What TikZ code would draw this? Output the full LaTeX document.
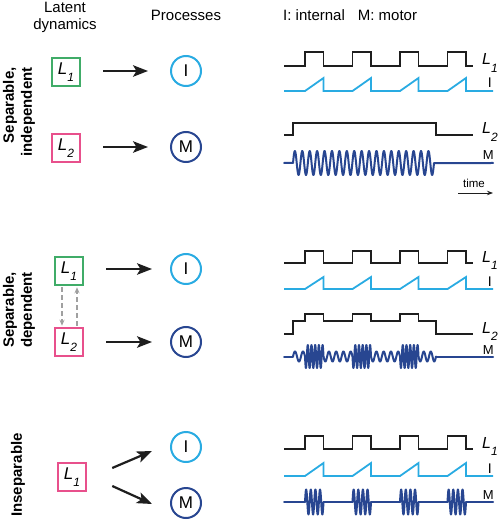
\documentclass[tikz,border=0pt]{standalone}
\usepackage{fontspec}
\setmainfont{Liberation Sans}
\usetikzlibrary{arrows.meta,calc}
\definecolor{lgreen}{RGB}{64,172,104}
\definecolor{lpink}{RGB}{232,80,140}
\definecolor{lblue}{RGB}{41,171,226}
\definecolor{dblue}{RGB}{40,70,145}
\definecolor{tblack}{RGB}{30,30,30}
\definecolor{dgray}{RGB}{160,160,160}
\newcommand\Lsub[1]{\textit{L}\raisebox{-0.45em}{\fontsize{12}{12}\selectfont\textit{#1}}}
\begin{document}
\begin{tikzpicture}[x=1pt,y=-1pt,
  latent/.style={draw, line width=2pt, minimum size=28.5pt, inner sep=0pt, font=\fontsize{17}{17}\selectfont},
  proc/.style={circle, draw, line width=2pt, minimum size=30pt, inner sep=0pt, font=\fontsize{17}{17}\selectfont},
  bigarrow/.style={line width=2.2pt, draw=tblack, -{Stealth[length=15pt,width=11.5pt,inset=3.5pt]}},
  dasharrow/.style={dgray, line width=1.2pt, dash pattern=on 5pt off 3pt, -{Stealth[length=6pt,width=5pt]}},
  ltrace/.style={tblack, line width=1.8pt},
  itrace/.style={lblue, line width=1.8pt},
  mtrace/.style={dblue, line width=2pt, line join=round, line cap=round},
  title/.style={font=\fontsize{15}{17.3}\selectfont, inner sep=0pt},
  side/.style={font=\bfseries\fontsize{15}{18}\selectfont, rotate=90, inner sep=0pt, align=center},
  tlab/.style={inner sep=0pt, font=\fontsize{16}{16}\selectfont, anchor=base west},
  plab/.style={inner sep=0pt, font=\fontsize{14}{14}\selectfont, anchor=base east}
]
\useasboundingbox (0,0) rectangle (500,521);

% titles
\node[title, align=center] (tlat) at (65,17.6) {Latent\\dynamics};
\node[title, anchor=base] (tproc) at (186,20.7) {Processes};
\node[title, anchor=base west] (tim) at (283,20.7) {I: internal\hspace{13pt}M: motor};

% side labels
\node[side, align=right] (s1) at (19,112) {Separable,\\independent};
\node[side] (s2) at (19,310) {Separable,\\dependent};
\node[side] (s3) at (18,475) {Inseparable};

% ---------- panel 1 ----------
\node[latent, draw=lgreen] (L1a) at (66,72) {\Lsub{1}};
\node[latent, draw=lpink] (L2a) at (66,148) {\Lsub{2}};
\node[proc, draw=lblue] (Ia) at (186,71) {I};
\node[proc, draw=dblue] (Ma) at (186,147) {M};
\draw[bigarrow, shorten <=22pt, shorten >=22pt] (L1a.east |- Ia.west) -- (Ia.west);
\draw[bigarrow, shorten <=22pt, shorten >=22pt] (L2a.east |- Ma.west) -- (Ma.west);

\draw[ltrace] (284,66) foreach \r in {305,352.5,400,447.5} { -- (\r,66) -- (\r,52) -- (\r+18.5,52) -- (\r+18.5,66) } -- (473,66);
\node[tlab] (la1) at (482,65) {\Lsub{1}};
\draw[itrace] (284,91) foreach \r in {305,352.5,400,447.5} { -- (\r,91) -- (\r+18.5,78) -- (\r+18.5,91) } -- (493,91);
\node[plab] (pa1) at (492,88) {I};
\draw[ltrace] (284,135) -- (293,135) -- (293,123) -- (436,123) -- (436,135) -- (473,135);
\node[tlab] (la2) at (482,134) {\Lsub{2}};
\draw[mtrace] (284,163) -- (293,163) -- plot[domain=293:434,samples=400] (\x,{163-12*sin((\x-293)*48.5106)}) -- (493,163);
\node[plab, font=\fontsize{13}{13}\selectfont] (pa2) at (494,160) {M};

\node[inner sep=0pt, anchor=base, font=\fontsize{11.5}{11.5}\selectfont] (tt) at (474,188) {time};
\coordinate (ta) at (458,193);
\coordinate (tb) at (493,193);
\draw[tblack, line width=0.9pt, -{Stealth[length=6pt,width=4.5pt]}] (ta) -- (tb);

% ---------- panel 2 ----------
\node[latent, draw=lgreen] (L1b) at (69,271) {\Lsub{1}};
\node[latent, draw=lpink] (L2b) at (69,342) {\Lsub{2}};
\node[proc, draw=lblue] (Ib) at (186,269) {I};
\node[proc, draw=dblue] (Mb) at (186,342) {M};
\draw[bigarrow, shorten <=22pt, shorten >=18pt] (L1b.east |- Ib.west) -- (Ib.west);
\draw[bigarrow, shorten <=22pt, shorten >=18pt] (L2b.east |- Mb.west) -- (Mb.west);
\draw[dasharrow, shorten <=1pt, shorten >=1pt] ($(L1b.south)+(-7,0)$) -- ($(L2b.north)+(-7,0)$);
\draw[dasharrow, shorten <=1pt, shorten >=1pt] ($(L2b.north)+(8,0)$) -- ($(L1b.south)+(8,0)$);

\draw[ltrace] (284,263) foreach \r in {305,352.5,400,447.5} { -- (\r,263) -- (\r,251) -- (\r+18.5,251) -- (\r+18.5,263) } -- (473,263);
\node[tlab] (lb1) at (482,262) {\Lsub{1}};
\draw[itrace] (284,289) foreach \r in {305,352.5,400,447.5} { -- (\r,289) -- (\r+18.5,277) -- (\r+18.5,289) } -- (493,289);
\node[plab] (pb1) at (492,286) {I};
\draw[ltrace] (284,334) -- (293,334) -- (293,321) foreach \r in {305,352.5,400} { -- (\r,321) -- (\r,314) -- (\r+18.5,314) -- (\r+18.5,321) } -- (436,321) -- (436,334) -- (473,334);
\node[tlab] (lb2) at (482,333) {\Lsub{2}};
\draw[mtrace] (284,356.5) -- (293,356.5);
\foreach \a/\b/\n/\A/\s in {293/305/1.5/5/1, 305/323.5/5/11.5/-1, 323.5/352.5/4/5/-1, 352.5/371/5/11.5/-1, 371/400/4/5/-1, 400/418.5/5/11.5/-1, 418.5/436/2.5/5/-1}
  \draw[mtrace] plot[domain=\a:\b,samples=100] (\x,{356.5-(\s)*\A*sin((\x-\a)/(\b-\a)*\n*360)});
\draw[mtrace] (436,356.5) -- (493,356.5);
\node[plab, font=\fontsize{13}{13}\selectfont] (pb2) at (494,354) {M};

% ---------- panel 3 ----------
\node[latent, draw=lpink] (L3) at (72,477) {\Lsub{1}};
\node[proc, draw=lblue] (Ic) at (186,447) {I};
\node[proc, draw=dblue] (Mc) at (186,503) {M};
\draw[bigarrow] ($(L3.east)+(25,-9)$) -- ($(Ic.west)+(-18,4)$);
\draw[bigarrow] ($(L3.east)+(25,9)$) -- ($(Mc.west)+(-18,1)$);

\draw[ltrace] (284,449) foreach \r in {305,352.5,400,447.5} { -- (\r,449) -- (\r,436) -- (\r+18.5,436) -- (\r+18.5,449) } -- (473,449);
\node[tlab] (lc1) at (482,448) {\Lsub{1}};
\draw[itrace] (284,476) foreach \r in {305,352.5,400,447.5} { -- (\r,476) -- (\r+18.5,463) -- (\r+18.5,476) } -- (493,476);
\node[plab] (pc1) at (492,473) {I};
\draw[mtrace] (284,502) -- (305,502) (323.5,502) -- (352.5,502) (371,502) -- (400,502) (418.5,502) -- (447.5,502) (466,502) -- (493,502);
\foreach \r in {305,352.5,400,447.5}
  \draw[mtrace] plot[domain=\r:\r+18.5,samples=80] (\x,{502-12.5*sin((\x-\r)/18.5*1440)});
\node[plab, font=\fontsize{13}{13}\selectfont] (pc2) at (494,499) {M};
\end{tikzpicture}
\end{document}
